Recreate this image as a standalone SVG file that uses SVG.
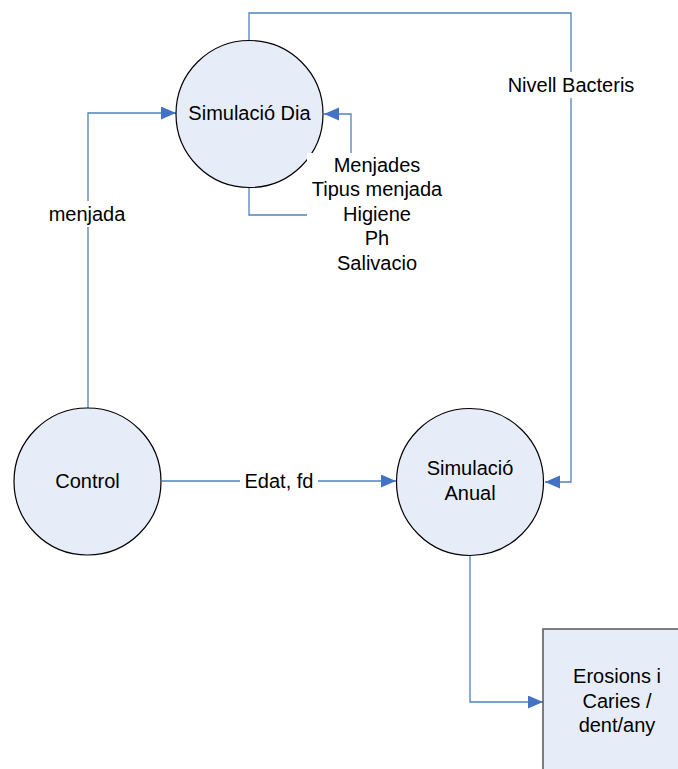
<svg xmlns="http://www.w3.org/2000/svg" width="678" height="769" viewBox="0 0 678 769">
<defs>
<style>
.node{fill:#e7edf8;stroke:#000;stroke-width:1.2}
.box{fill:#e7edf8;stroke:#555;stroke-width:1.5}
.t{font-family:"Liberation Sans",Arial,sans-serif;font-size:20px;fill:#000;text-anchor:middle}
.c{fill:none;stroke:#4f81bd;stroke-width:1.3}
.bg{fill:#fff}
</style>
<marker id="ah" markerUnits="userSpaceOnUse" markerWidth="16" markerHeight="14" refX="15" refY="6.5" orient="auto">
<path d="M0,0 L15,6.5 L0,13 Z" fill="#4472c4"/>
</marker>
</defs>
<g id="connectors">
<path class="c" d="M249,40 V13 H571 V482 H545" marker-end="url(#ah)"/>
<path class="c" d="M88,408 V113 H176" marker-end="url(#ah)"/>
<path class="c" d="M162,481 H396" marker-end="url(#ah)"/>
<path class="c" d="M470,556 V702 H543" marker-end="url(#ah)"/>
<path class="c" d="M249,188 V215 H310"/>
<path class="c" d="M351,155 V114 H324" marker-end="url(#ah)"/>
</g>
<g id="node-simdia">
<circle class="node" cx="249.5" cy="114" r="73.5"/>
<text class="t" x="249.5" y="120">Simulació Dia</text>
</g>
<g id="node-control">
<circle class="node" cx="87.5" cy="481.5" r="73.5"/>
<text class="t" x="87.5" y="488">Control</text>
</g>
<g id="node-simanual">
<circle class="node" cx="470" cy="482" r="73.5"/>
<text class="t" x="470" y="475">Simulació</text>
<text class="t" x="470" y="500">Anual</text>
</g>
<g id="node-erosions">
<rect class="box" x="543" y="629" width="145" height="150"/>
<text class="t" x="617" y="683">Erosions i</text>
<text class="t" x="617" y="708">Caries /</text>
<text class="t" x="617" y="732">dent/any</text>
</g>
<g id="labels">
<rect class="bg" x="504" y="72" width="134" height="26"/>
<text class="t" x="571" y="92">Nivell Bacteris</text>
<rect class="bg" x="44" y="201" width="88" height="26"/>
<text class="t" x="87" y="221">menjada</text>
<rect class="bg" x="240" y="470" width="78" height="24"/>
<text class="t" x="279" y="488">Edat, fd</text>
<rect class="bg" x="307" y="153" width="140" height="124"/>
<text class="t" x="377" y="172">Menjades</text>
<text class="t" x="377" y="196">Tipus menjada</text>
<text class="t" x="377" y="221">Higiene</text>
<text class="t" x="377" y="245">Ph</text>
<text class="t" x="377" y="270">Salivacio</text>
</g>
</svg>
